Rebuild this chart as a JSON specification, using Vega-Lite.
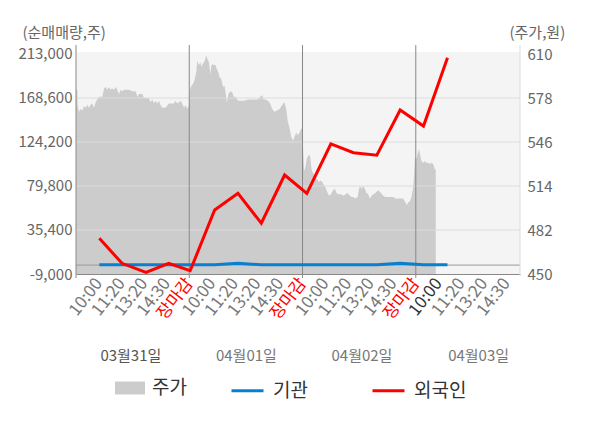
{
  "$schema": "https://vega.github.io/schema/vega-lite/v6.json",
  "width": 444,
  "height": 222,
  "autosize": {"type": "none"},
  "padding": {"left": 76, "top": 52, "right": 80, "bottom": 154},
  "background": "#ffffff",
  "datasets": {
    "price": [
      {"k": 0, "p": 584}, {"k": 0.06, "p": 584}, {"k": 0.07, "p": 573}, {"k": 0.13, "p": 568}, {"k": 0.2, "p": 570},
      {"k": 0.28, "p": 569}, {"k": 0.35, "p": 572}, {"k": 0.42, "p": 571}, {"k": 0.5, "p": 573}, {"k": 0.57, "p": 571},
      {"k": 0.64, "p": 573}, {"k": 0.72, "p": 574}, {"k": 0.79, "p": 571}, {"k": 0.87, "p": 575}, {"k": 0.94, "p": 577},
      {"k": 1.01, "p": 579}, {"k": 1.09, "p": 579}, {"k": 1.16, "p": 579}, {"k": 1.24, "p": 585}, {"k": 1.31, "p": 586},
      {"k": 1.38, "p": 584}, {"k": 1.46, "p": 586}, {"k": 1.53, "p": 584}, {"k": 1.6, "p": 585}, {"k": 1.68, "p": 584},
      {"k": 1.75, "p": 586}, {"k": 1.82, "p": 584}, {"k": 1.9, "p": 581}, {"k": 1.97, "p": 584}, {"k": 2.04, "p": 583},
      {"k": 2.12, "p": 584}, {"k": 2.19, "p": 584}, {"k": 2.34, "p": 584}, {"k": 2.48, "p": 583}, {"k": 2.63, "p": 583},
      {"k": 2.71, "p": 579}, {"k": 2.78, "p": 581}, {"k": 2.85, "p": 581}, {"k": 2.93, "p": 581}, {"k": 3.0, "p": 578},
      {"k": 3.07, "p": 578}, {"k": 3.22, "p": 578}, {"k": 3.29, "p": 575}, {"k": 3.37, "p": 577}, {"k": 3.44, "p": 574},
      {"k": 3.51, "p": 576}, {"k": 3.59, "p": 574}, {"k": 3.66, "p": 576}, {"k": 3.73, "p": 573}, {"k": 3.81, "p": 571},
      {"k": 3.95, "p": 571}, {"k": 4.1, "p": 574}, {"k": 4.25, "p": 574}, {"k": 4.32, "p": 574}, {"k": 4.4, "p": 576},
      {"k": 4.47, "p": 574}, {"k": 4.55, "p": 575}, {"k": 4.62, "p": 576}, {"k": 4.69, "p": 574}, {"k": 4.77, "p": 571},
      {"k": 4.84, "p": 573}, {"k": 4.91, "p": 570}, {"k": 4.99, "p": 573},
      {"k": 5.03, "p": 584}, {"k": 5.09, "p": 587}, {"k": 5.16, "p": 588}, {"k": 5.23, "p": 591}, {"k": 5.31, "p": 597},
      {"k": 5.35, "p": 605}, {"k": 5.43, "p": 602}, {"k": 5.49, "p": 604}, {"k": 5.53, "p": 601}, {"k": 5.6, "p": 603},
      {"k": 5.68, "p": 605}, {"k": 5.75, "p": 609}, {"k": 5.79, "p": 607}, {"k": 5.87, "p": 604}, {"k": 5.93, "p": 595},
      {"k": 5.97, "p": 601}, {"k": 6.02, "p": 603}, {"k": 6.07, "p": 602}, {"k": 6.16, "p": 602}, {"k": 6.22, "p": 599},
      {"k": 6.28, "p": 597}, {"k": 6.34, "p": 593}, {"k": 6.41, "p": 592}, {"k": 6.49, "p": 586}, {"k": 6.56, "p": 587},
      {"k": 6.6, "p": 582}, {"k": 6.66, "p": 575}, {"k": 6.73, "p": 581}, {"k": 6.81, "p": 583}, {"k": 6.9, "p": 582},
      {"k": 6.96, "p": 579}, {"k": 7.04, "p": 579}, {"k": 7.15, "p": 576}, {"k": 7.29, "p": 576}, {"k": 7.44, "p": 576},
      {"k": 7.59, "p": 577}, {"k": 7.74, "p": 577}, {"k": 7.88, "p": 577}, {"k": 8.03, "p": 577}, {"k": 8.13, "p": 579},
      {"k": 8.22, "p": 580}, {"k": 8.28, "p": 577}, {"k": 8.37, "p": 577}, {"k": 8.47, "p": 576}, {"k": 8.57, "p": 574},
      {"k": 8.66, "p": 570}, {"k": 8.76, "p": 568}, {"k": 8.87, "p": 569}, {"k": 8.99, "p": 570}, {"k": 9.1, "p": 573},
      {"k": 9.21, "p": 575}, {"k": 9.28, "p": 570}, {"k": 9.35, "p": 561}, {"k": 9.43, "p": 556}, {"k": 9.5, "p": 550},
      {"k": 9.58, "p": 547}, {"k": 9.65, "p": 550}, {"k": 9.72, "p": 553}, {"k": 9.79, "p": 551}, {"k": 9.87, "p": 553},
      {"k": 9.94, "p": 556}, {"k": 10.0, "p": 555},
      {"k": 10.03, "p": 539}, {"k": 10.07, "p": 525}, {"k": 10.13, "p": 528}, {"k": 10.19, "p": 534}, {"k": 10.25, "p": 536},
      {"k": 10.3, "p": 537}, {"k": 10.34, "p": 535}, {"k": 10.4, "p": 526}, {"k": 10.44, "p": 524}, {"k": 10.5, "p": 523},
      {"k": 10.57, "p": 520}, {"k": 10.65, "p": 519}, {"k": 10.72, "p": 517}, {"k": 10.79, "p": 518}, {"k": 10.87, "p": 517},
      {"k": 10.93, "p": 515}, {"k": 10.99, "p": 514}, {"k": 11.06, "p": 511}, {"k": 11.13, "p": 508}, {"k": 11.21, "p": 507},
      {"k": 11.28, "p": 509}, {"k": 11.35, "p": 511}, {"k": 11.43, "p": 512}, {"k": 11.5, "p": 509}, {"k": 11.58, "p": 508},
      {"k": 11.69, "p": 508}, {"k": 11.8, "p": 507}, {"k": 11.9, "p": 508}, {"k": 11.99, "p": 509}, {"k": 12.09, "p": 507},
      {"k": 12.16, "p": 506}, {"k": 12.24, "p": 506}, {"k": 12.34, "p": 505}, {"k": 12.43, "p": 506}, {"k": 12.49, "p": 512},
      {"k": 12.55, "p": 514}, {"k": 12.6, "p": 512}, {"k": 12.68, "p": 514}, {"k": 12.75, "p": 512}, {"k": 12.82, "p": 509},
      {"k": 12.9, "p": 508}, {"k": 12.97, "p": 505}, {"k": 13.05, "p": 507}, {"k": 13.12, "p": 508}, {"k": 13.22, "p": 509},
      {"k": 13.34, "p": 511}, {"k": 13.46, "p": 509}, {"k": 13.56, "p": 507}, {"k": 13.66, "p": 506}, {"k": 13.78, "p": 506},
      {"k": 13.9, "p": 506}, {"k": 14.0, "p": 506}, {"k": 14.1, "p": 505}, {"k": 14.22, "p": 505}, {"k": 14.34, "p": 505},
      {"k": 14.44, "p": 505}, {"k": 14.54, "p": 502}, {"k": 14.6, "p": 500}, {"k": 14.66, "p": 502}, {"k": 14.74, "p": 503},
      {"k": 14.81, "p": 506}, {"k": 14.89, "p": 514}, {"k": 14.93, "p": 524}, {"k": 14.96, "p": 534},
      {"k": 15.03, "p": 534}, {"k": 15.07, "p": 537}, {"k": 15.14, "p": 541}, {"k": 15.2, "p": 536}, {"k": 15.25, "p": 532},
      {"k": 15.33, "p": 531}, {"k": 15.4, "p": 532}, {"k": 15.47, "p": 531}, {"k": 15.55, "p": 531}, {"k": 15.62, "p": 530},
      {"k": 15.69, "p": 531}, {"k": 15.77, "p": 530}, {"k": 15.84, "p": 526}, {"k": 15.88, "p": 526}
    ],
    "flow": [
      {"s": "기관", "k": 1.03, "v": 300}, {"s": "기관", "k": 2.03, "v": 300}, {"s": "기관", "k": 3.09, "v": 300},
      {"s": "기관", "k": 4.09, "v": 300}, {"s": "기관", "k": 5.04, "v": 300}, {"s": "기관", "k": 6.12, "v": 300},
      {"s": "기관", "k": 7.15, "v": 1800}, {"s": "기관", "k": 8.18, "v": 300}, {"s": "기관", "k": 9.21, "v": 300},
      {"s": "기관", "k": 10.19, "v": 300}, {"s": "기관", "k": 11.25, "v": 300}, {"s": "기관", "k": 12.25, "v": 300},
      {"s": "기관", "k": 13.28, "v": 300}, {"s": "기관", "k": 14.31, "v": 1800}, {"s": "기관", "k": 15.34, "v": 300},
      {"s": "기관", "k": 16.4, "v": 300},
      {"s": "외국인", "k": 1.03, "v": 27000}, {"s": "외국인", "k": 2.03, "v": 1800}, {"s": "외국인", "k": 3.09, "v": -7300},
      {"s": "외국인", "k": 4.09, "v": 1800}, {"s": "외국인", "k": 5.04, "v": -5700}, {"s": "외국인", "k": 6.12, "v": 55600},
      {"s": "외국인", "k": 7.15, "v": 72400}, {"s": "외국인", "k": 8.18, "v": 42200}, {"s": "외국인", "k": 9.21, "v": 90900},
      {"s": "외국인", "k": 10.19, "v": 72400}, {"s": "외국인", "k": 11.25, "v": 122200}, {"s": "외국인", "k": 12.25, "v": 113400},
      {"s": "외국인", "k": 13.28, "v": 110800}, {"s": "외국인", "k": 14.31, "v": 156500}, {"s": "외국인", "k": 15.34, "v": 140300},
      {"s": "외국인", "k": 16.4, "v": 209200}
    ],
    "hlines": [{"g": 35400}, {"g": 79800}, {"g": 124200}, {"g": 168600}],
    "zeroline": [{"g": 0}],
    "days": [{"k": 0}, {"k": 5}, {"k": 10}, {"k": 15}],
    "edge": [{"k": 19.6}]
  },
  "layer": [
    {
      "data": {"name": "price"},
      "mark": {"type": "area"},
      "encoding": {
        "x": {
          "field": "k",
          "type": "quantitative",
          "scale": {"domain": [0, 19.6], "nice": false, "zero": false},
          "axis": {
            "orient": "bottom",
            "values": [1, 2, 3, 4, 5, 6, 7, 8, 9, 10, 11, 12, 13, 14, 15, 16, 17, 18, 19],
            "labelExpr": "['장마감','10:00','11:20','13:20','14:30'][datum.value % 5]",
            "labelAngle": -52,
            "labelAlign": "right",
            "labelBaseline": "middle",
            "labelPadding": 6,
            "labelFontSize": 17,
            "labelOverlap": false,
            "labelBound": false,
            "labelFlush": false,
            "labelColor": {
              "condition": [
                {"test": "datum.value % 5 == 0", "value": "#ff0000"},
                {"test": "datum.value == 16", "value": "#333333"}
              ],
              "value": "#777777"
            },
            "ticks": false,
            "grid": false,
            "domain": true,
            "domainColor": "#888888",
            "title": null
          }
        },
        "y": {
          "field": "p",
          "type": "quantitative",
          "scale": {"domain": [450, 611.5], "nice": false, "zero": false},
          "axis": {
            "orient": "right",
            "values": [450, 482, 514, 546, 578, 610],
            "domain": false,
            "ticks": false,
            "grid": false,
            "labelPadding": 7,
            "title": "(주가,원)",
            "titleAngle": 0,
            "titleAlign": "left",
            "titleBaseline": "middle",
            "titleX": -11,
            "titleY": -20
          }
        },
        "y2": {"datum": 450},
        "fill": {
          "datum": "주가",
          "type": "nominal",
          "scale": {"domain": ["주가"], "range": ["#cccccc"]},
          "legend": {
            "orient": "none",
            "legendX": 39,
            "legendY": 321,
            "title": null,
            "symbolType": "M-1,-0.43L1,-0.43L1,0.43L-1,0.43Z",
            "symbolSize": 900,
            "symbolStrokeWidth": 0,
            "labelOffset": 7
          }
        }
      }
    },
    {
      "data": {"name": "hlines"},
      "mark": {"type": "rule", "color": "#dddddd", "strokeWidth": 1},
      "encoding": {
        "y": {
          "field": "g",
          "type": "quantitative",
          "scale": {"domain": [-9000, 215000], "nice": false, "zero": false},
          "axis": {
            "orient": "left",
            "values": [-9000, 35400, 79800, 124200, 168600, 213000],
            "labelExpr": "replace(format(datum.value, ','), '−', '-')",
            "labelFontSize": 15,
            "domain": false,
            "ticks": false,
            "grid": false,
            "labelPadding": 4,
            "title": "(순매매량,주)",
            "titleAngle": 0,
            "titleAlign": "left",
            "titleBaseline": "middle",
            "titleX": -54,
            "titleY": -20
          }
        }
      }
    },
    {
      "data": {"name": "zeroline"},
      "mark": {"type": "rule", "color": "#999999", "strokeWidth": 1},
      "encoding": {
        "y": {"field": "g", "type": "quantitative", "scale": {"domain": [-9000, 215000], "nice": false, "zero": false}, "axis": null}
      }
    },
    {
      "data": {"name": "days"},
      "mark": {"type": "rule", "color": "#888888", "strokeWidth": 1},
      "encoding": {
        "x": {
          "field": "k",
          "type": "quantitative",
          "scale": {"domain": [0, 19.6], "nice": false, "zero": false},
          "axis": {
            "orient": "bottom",
            "values": [2.4, 7.5, 12.6, 17.75],
            "labelExpr": "datum.value < 5 ? '03월31일' : datum.value < 10 ? '04월01일' : datum.value < 15 ? '04월02일' : '04월03일'",
            "labelAngle": 0,
            "labelAlign": "center",
            "labelBaseline": "middle",
            "labelPadding": 81,
            "labelFontSize": 15,
            "labelOverlap": false,
            "labelBound": false,
            "labelFlush": false,
            "labelColor": {"condition": {"test": "datum.value < 5", "value": "#555555"}, "value": "#777777"},
            "domain": false,
            "ticks": false,
            "grid": false,
            "title": null
          }
        },
        "y": {"datum": 222000, "type": "quantitative", "scale": {"domain": [-9000, 215000], "nice": false, "zero": false}, "axis": null},
        "y2": {"datum": -13000}
      }
    },
    {
      "data": {"name": "edge"},
      "mark": {"type": "rule", "color": "#dddddd", "strokeWidth": 1},
      "encoding": {
        "x": {"field": "k", "type": "quantitative", "scale": {"domain": [0, 19.6], "nice": false, "zero": false}, "axis": null},
        "y": {"datum": 222000, "type": "quantitative", "scale": {"domain": [-9000, 215000], "nice": false, "zero": false}, "axis": null},
        "y2": {"datum": -11000}
      }
    },
    {
      "data": {"name": "flow"},
      "mark": {"type": "line", "strokeWidth": 3},
      "encoding": {
        "x": {"field": "k", "type": "quantitative", "scale": {"domain": [0, 19.6], "nice": false, "zero": false}, "axis": null},
        "y": {"field": "v", "type": "quantitative", "scale": {"domain": [-9000, 215000], "nice": false, "zero": false}, "axis": null},
        "stroke": {
          "field": "s",
          "type": "nominal",
          "scale": {"domain": ["기관", "외국인"], "range": ["#0a7fd0", "#ff0000"]},
          "legend": {
            "orient": "none",
            "direction": "horizontal",
            "legendX": 154,
            "legendY": 321,
            "title": null,
            "symbolType": "stroke",
            "symbolSize": 1024,
            "symbolStrokeWidth": 3,
            "labelOffset": 8,
            "columnPadding": 58
          }
        }
      }
    }
  ],
  "resolve": {"scale": {"x": "independent", "y": "independent"}},
  "config": {
    "font": "Noto Sans CJK KR",
    "view": {"fill": "#f4f4f4", "stroke": null},
    "axis": {
      "labelFont": "Noto Sans CJK KR",
      "labelFontSize": 15,
      "labelColor": "#666666",
      "titleFont": "Noto Sans CJK KR",
      "titleFontSize": 15,
      "titleFontWeight": "normal",
      "titleColor": "#666666"
    },
    "legend": {
      "labelFont": "Noto Sans CJK KR",
      "labelFontSize": 19,
      "labelColor": "#333333",
      "padding": 0
    }
  }
}
